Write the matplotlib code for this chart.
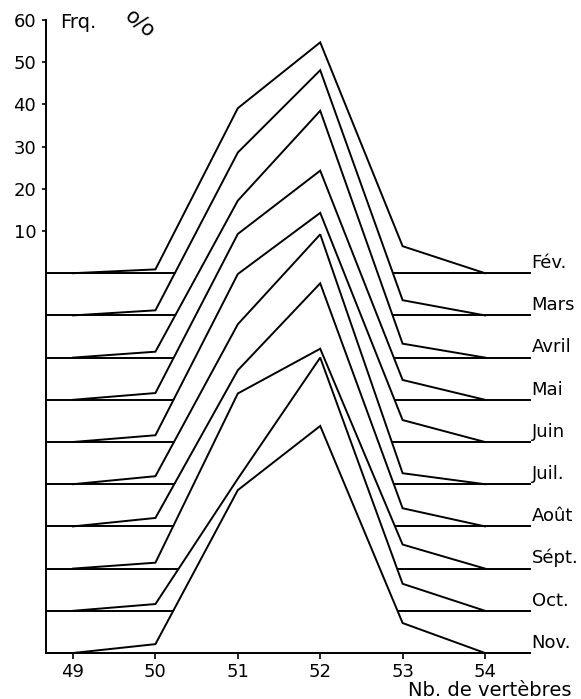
import matplotlib
matplotlib.use('Agg')
import matplotlib.pyplot as plt
import numpy as np

# Data: vertebra counts and monthly frequency (%) polygons
vertebrae = [49, 50, 51, 52, 53, 54]
months = ['Fév.', 'Mars', 'Avril', 'Mai', 'Juin', 'Juil.', 'Août', 'Sépt.', 'Oct.', 'Nov.']
freq = {
    'Fév.':  [0, 0.9, 39.1, 54.7, 6.4, 0],
    'Mars':  [0, 1.2, 38.6, 58.1, 3.6, 0],
    'Avril': [0, 1.4, 37.2, 58.5, 3.3, 0],
    'Mai':   [0, 1.6, 39.3, 54.3, 4.7, 0],
    'Juin':  [0, 1.6, 39.8, 54.3, 5.2, 0],
    'Juil.': [0, 1.9, 37.9, 59.2, 2.6, 0],
    'Août':  [0, 2.0, 37.0, 57.6, 4.3, 0],
    'Sépt.': [0, 1.4, 41.5, 52.1, 5.7, 0],
    'Oct.':  [0, 1.6, 31.3, 60.0, 6.4, 0],
    'Nov.':  [0, 2.1, 38.6, 53.8, 7.1, 0],
}
offset_step = 10
yticks = [10, 20, 30, 40, 50, 60]

W, H = 581, 699
fig = plt.figure(figsize=(W / 100, H / 100), dpi=100)
x0, x1 = 46, 530
ytop, ybot = 20, 653
ax = fig.add_axes([x0 / W, (H - ybot) / H, (x1 - x0) / W, (ybot - ytop) / H])
xmin, xmax = 48.672, 54.546
ax.set_xlim(xmin, xmax)
ax.set_ylim(-90, 60)

x = np.array(vertebrae)
for i, m in enumerate(months):
    base = -offset_step * i
    y = base + np.array(freq[m])
    z = 2 + 2 * i
    ax.fill_between(x, base, y, color='white', lw=0, zorder=z)
    ax.plot(x, y, color='black', lw=1.4, zorder=z + 0.5, solid_joinstyle='miter')
    ax.plot([xmin, xmax], [base, base], color='black', lw=1.4, zorder=z + 0.5,
            clip_on=False)
    ax.text(xmax + 0.02, base + 0.3, m, fontsize=13, va='bottom', ha='left',
            clip_on=False)

for s in ['top', 'right']:
    ax.spines[s].set_visible(False)
ax.spines['left'].set_linewidth(1.4)
ax.spines['bottom'].set_linewidth(1.4)
ax.spines['left'].set_bounds(-90, 60)

ax.set_yticks(yticks)
ax.set_yticklabels([str(v) for v in yticks], fontsize=13)
ax.tick_params(axis='y', direction='out', length=3, width=1.2, pad=4)
ax.set_xticks(vertebrae)
ax.set_xticklabels([str(v) for v in vertebrae], fontsize=13)
ax.tick_params(axis='x', direction='out', length=4, width=1.2, pad=3)

fig.text(60 / W, 1 - 22 / H, 'Frq.', fontsize=14, va='center', ha='left')
fig.text(140 / W, 1 - 24 / H, 'o/o', fontsize=15, va='center', ha='center',
         rotation=-40)
fig.text(490 / W, 1 - 690 / H, 'Nb. de vertèbres', fontsize=14,
         va='center', ha='center')

fig.savefig('out.png', dpi=100)
